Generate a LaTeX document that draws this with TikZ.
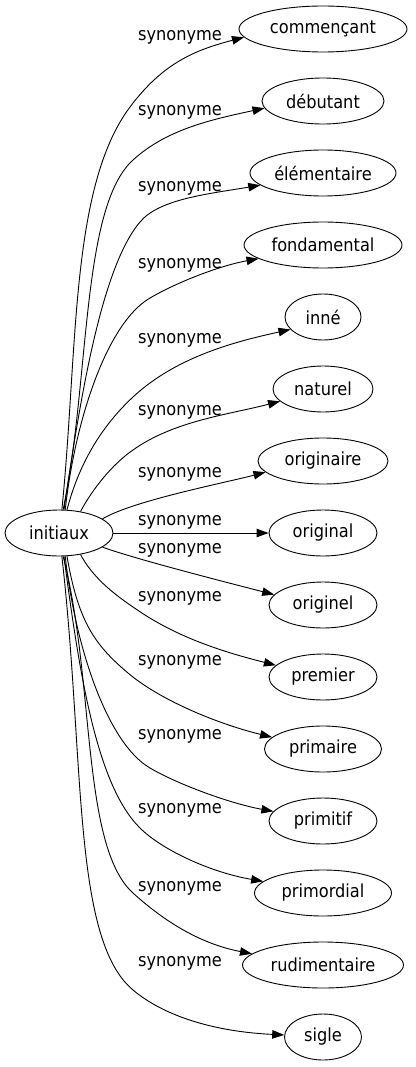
\documentclass[tikz,border=0pt]{standalone}
\usepackage{fontspec}
\newfontfamily\gvfont[FakeStretch=0.9]{DejaVu Sans}
\usetikzlibrary{shapes.geometric,arrows.meta}
\begin{document}
\begin{tikzpicture}[x=1pt,y=-1pt,
  every node/.style={font=\gvfont\fontsize{18}{21}\selectfont},
  word/.style={ellipse, draw, line width=0.9pt, inner sep=0pt, minimum height=46pt},
  lab/.style={inner sep=0pt},
  syn/.style={line width=0.9pt, -{Triangle[length=12pt,width=8.5pt]}}]
\useasboundingbox (0,0) rectangle (415,1067);
\node[word, minimum width=108pt] (root) at (59,533) {initiaux};
\node[word, minimum width=168pt] (c0) at (323,29) {commençant};
\node[word, minimum width=122pt] (c1) at (323,101) {débutant};
\node[word, minimum width=146pt] (c2) at (323,173) {élémentaire};
\node[word, minimum width=158pt] (c3) at (323,245) {fondamental};
\node[word, minimum width=76pt] (c4) at (323,317) {inné};
\node[word, minimum width=100pt] (c5) at (323,389) {naturel};
\node[word, minimum width=130pt] (c6) at (323,461) {originaire};
\node[word, minimum width=108pt] (c7) at (323,533) {original};
\node[word, minimum width=108pt] (c8) at (323,605) {originel};
\node[word, minimum width=108pt] (c9) at (323,677) {premier};
\node[word, minimum width=117pt] (c10) at (323,749) {primaire};
\node[word, minimum width=108pt] (c11) at (323,821) {primitif};
\node[word, minimum width=137pt] (c12) at (323,893) {primordial};
\node[word, minimum width=161pt] (c13) at (323,965) {rudimentaire};
\node[word, minimum width=77pt] (c14) at (323,1037) {sigle};
\node[lab] (l0) at (180,37) {synonyme};
\node[lab] (l1) at (180,112) {synonyme};
\node[lab] (l2) at (180,188) {synonyme};
\node[lab] (l3) at (180,265) {synonyme};
\node[lab] (l4) at (180,340) {synonyme};
\node[lab] (l5) at (180,412) {synonyme};
\node[lab] (l6) at (180,474) {synonyme};
\node[lab] (l7) at (180,522) {synonyme};
\node[lab] (l8) at (180,550) {synonyme};
\node[lab] (l9) at (180,598) {synonyme};
\node[lab] (l10) at (180,662) {synonyme};
\node[lab] (l11) at (180,736) {synonyme};
\node[lab] (l12) at (180,810) {synonyme};
\node[lab] (l13) at (180,888) {synonyme};
\node[lab] (l14) at (180,963) {synonyme};
% upper edges
\draw[syn] (root.83) .. controls (78,350) and (70,187) .. (130,107) .. controls (163,63) and (195,50) .. (c0.186);
\draw[syn] (root.80) .. controls (90,380) and (81,207) .. (133,160) .. controls (166,130) and (209,120) .. (c1.187);
\draw[syn] (root.78) .. controls (80,400) and (101,268) .. (140,222) .. controls (159,199) and (208,194) .. (c2.191);
\draw[syn] (root.75) .. controls (75,420) and (107,323) .. (150,298) .. controls (180,280.5) and (223,265) .. (c3.192);
\draw[syn] (root.71) .. controls (80,460) and (104,424) .. (133,397) .. controls (177,356) and (238,341) .. (c4.201);
\draw[syn] (root.45) .. controls (92.5,489) and (112.5,464) .. (133,450) .. controls (174,421) and (226.5,415) .. (c5.196);
\draw[syn] (root.18) .. controls (132,501) and (224,483) .. (c6.191);
\draw[syn] (root.east) -- (c7.west);
% lower edges
\draw[syn] (root.-18) .. controls (135,559) and (229,583) .. (c8.168);
\draw[syn] (root.-45) .. controls (92.5,577) and (112.5,593) .. (133,607) .. controls (174,636) and (219.5,651) .. (c9.166);
\draw[syn] (root.-71) .. controls (78,620) and (93.5,644) .. (128,673) .. controls (158.6,699) and (214.5,723) .. (c10.167);
\draw[syn] (root.-75) .. controls (75,646) and (107,743) .. (150,768) .. controls (180,785.5) and (232.5,804) .. (c11.169);
\draw[syn] (root.-78) .. controls (80,680) and (97.6,786) .. (140,828) .. controls (161,849) and (208.7,872) .. (c12.169);
\draw[syn] (root.-80) .. controls (95,680) and (81,846) .. (133,893) .. controls (162.7,920) and (199,943.6) .. (c13.171);
\draw[syn] (root.-83) .. controls (85,760) and (72,939) .. (133,990) .. controls (163.6,1015.7) and (213,1031.5) .. (c14.177);
\end{tikzpicture}
\end{document}
